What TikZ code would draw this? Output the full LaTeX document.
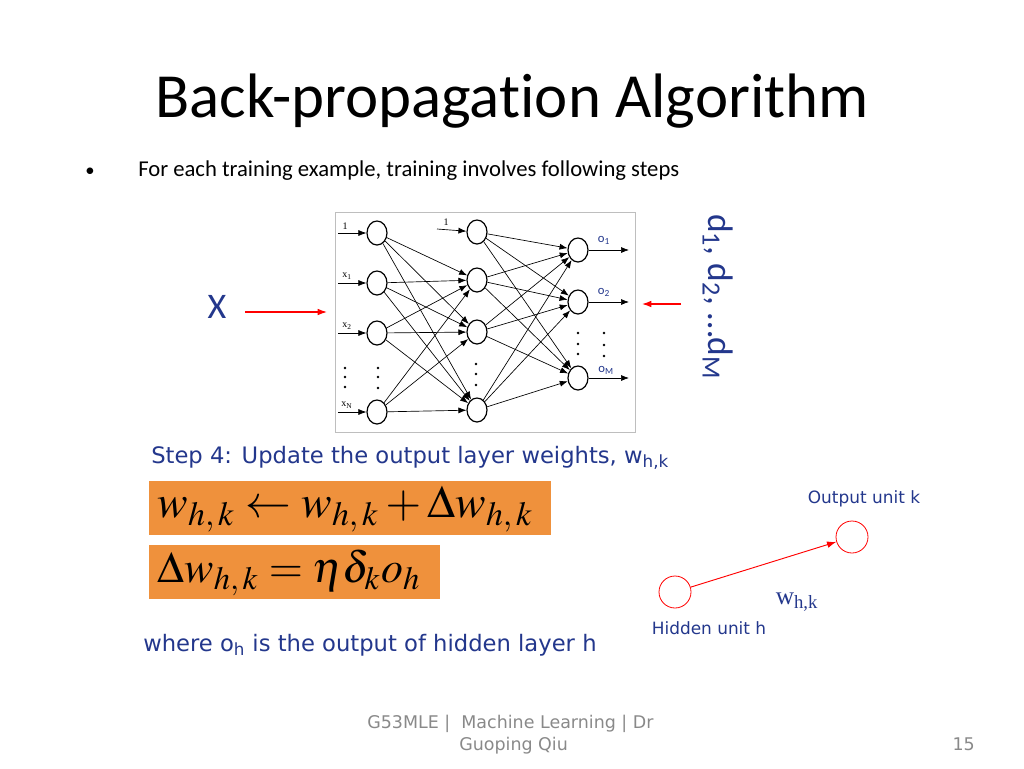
\documentclass[tikz,border=0pt]{standalone}
\usepackage{mathptmx}
\usepackage{fontspec}
\setmainfont[Ligatures={NoCommon}]{Carlito}
\newfontfamily\verd{DejaVu Sans}
\newfontfamily\tnr{Liberation Serif}
\usetikzlibrary{arrows.meta,shapes.geometric}
\definecolor{navy}{RGB}{35,55,140}
\definecolor{orng}{RGB}{239,145,60}
\definecolor{ftgray}{RGB}{137,137,137}
\definecolor{boxgray}{RGB}{190,190,190}
\tikzset{
  neuron/.style={draw=black, line width=0.9pt, ellipse, minimum width=15pt, minimum height=18pt, inner sep=0pt},
  conn/.style={line width=0.5pt, -{Latex[length=6pt,width=4.5pt]}},
  inl/.style={font=\tnr\fontsize{7.5}{8}\selectfont, inner sep=0pt},
  olab/.style={font=\fontsize{9.5}{10}\selectfont, text=navy, inner sep=0pt},
  redarrow/.style={draw=red, line width=0.9pt, -{Latex[length=7pt,width=5pt]}},
  runit/.style={draw=red, circle, line width=0.6pt, minimum size=24pt, inner sep=0pt},
  bluetxt/.style={text=navy, inner sep=0pt},
  eqbox/.style={fill=orng, inner sep=0pt, anchor=north west},
  eqtxt/.style={inner sep=0pt, anchor=west, scale=2.45, font=\fontsize{14}{16}\selectfont},
}
\begin{document}
\begin{tikzpicture}[x=0.75pt,y=-0.75pt]
\useasboundingbox (0,0) rectangle (1024,768);
% title
\node[inner sep=0pt, anchor=base] (title) at (512,117) {\fontsize{47.1}{50}\selectfont Back-propagation Algorithm};
\node[inner sep=0pt, anchor=base] (bullet) at (90,176) {\fontsize{14}{16}\selectfont •};
\node[inner sep=0pt, anchor=base west] (intro) at (138,176) {\fontsize{17}{19}\selectfont For each training example, training involves following steps};
% network image
\draw[boxgray, line width=0.6pt] (335,212) rectangle (635,432);
\node[neuron] (a1) at (377,233) {};
\node[neuron] (a2) at (377,283) {};
\node[neuron] (a3) at (377,333) {};
\node[neuron] (a4) at (377,412) {};
\node[neuron] (b1) at (477,232) {};
\node[neuron] (b2) at (477,280) {};
\node[neuron] (b3) at (477,332) {};
\node[neuron] (b4) at (477,410) {};
\node[neuron] (c1) at (578,250) {};
\node[neuron] (c2) at (578,302) {};
\node[neuron] (c3) at (578,378) {};
\foreach \i in {1,...,4}{
  \foreach \j in {2,3,4}{ \draw[conn] (a\i) -- (b\j); }
  \foreach \j in {1,2,3}{ \draw[conn] (b\i) -- (c\j); }
}
% inputs
\coordinate (i1) at (338,233);
\coordinate (i2) at (338,283);
\coordinate (i3) at (338,333);
\coordinate (i4) at (338,412);
\foreach \i in {1,...,4}{ \draw[conn] (i\i) -- (a\i); }
\node[inl] (l1) at (345,226) {1};
\node[inl] (l2) at (347,276) {x\textsubscript{1}};
\node[inl] (l3) at (347,326) {x\textsubscript{2}};
\node[inl] (l4) at (347,405) {x\textsubscript{N}};
\coordinate (ib) at (437,229);
\draw[conn] (ib) -- (b1);
\node[inl] (lb) at (446,222) {1};
% outputs
\coordinate (o1) at (629,250);
\coordinate (o2) at (629,302);
\coordinate (o3) at (629,378);
\foreach \i in {1,2,3}{ \draw[conn] (c\i) -- (o\i); }
\node[olab] (ol1) at (604,240) {o\textsubscript{1}};
\node[olab] (ol2) at (604,292) {o\textsubscript{2}};
\node[olab] (ol3) at (606,370) {o\textsubscript{M}};
% dots
\foreach \x/\ys in {345/{368,377,387},378/{368,377,388},476/{364,374,385},578/{333,344,354},604/{333,345,356}}{
  \foreach \y in \ys { \fill (\x,\y) circle (1.1pt); }
}
% X and targets
\node[bluetxt, anchor=base] (X) at (217,318) {\fontsize{27}{30}\selectfont X};
\coordinate (xs) at (245,312);
\coordinate (xe) at (327,312);
\draw[redarrow] (xs) -- (xe);
\coordinate (ds) at (681,304);
\coordinate (de) at (642,304);
\draw[redarrow] (ds) -- (de);
\node[bluetxt, rotate=-90, anchor=base west] (d) at (708,214) {\fontsize{26.6}{28}\selectfont d\textsubscript{1}, d\textsubscript{2}, …d\textsubscript{M}};
% step 4
\node[bluetxt, anchor=base west] (step) at (151,463) {\verd\fontsize{17}{19}\selectfont Step 4: Update the output layer weights, w\textsubscript{h,k}};
\node[eqbox, minimum width=402pt*0.75, minimum height=54pt*0.75] (eq1) at (149,481) {};
\node[eqtxt] (eq1t) at (157,509) {$w_{h,\,k} \leftarrow w_{h,\,k} + \Delta w_{h,\,k}$};
\node[eqbox, minimum width=291pt*0.75, minimum height=54pt*0.75] (eq2) at (149,545) {};
\node[eqtxt, scale=0.96] (eq2t) at (157,573) {$\Delta w_{h,\,k} = \eta\delta_k o_h$};
\node[bluetxt, anchor=base west] (where) at (143,651) {\verd\fontsize{17}{19}\selectfont where o\textsubscript{h} is the output of hidden layer h};
% small diagram
\node[runit] (hu) at (675,592) {};
\node[runit] (ou) at (852,537) {};
\draw[redarrow, line width=0.7pt] (hu) -- (ou);
\node[bluetxt, anchor=base] (wlab) at (797,604) {\tnr\fontsize{19}{21}\selectfont w\textsubscript{h,k}};
\node[bluetxt, anchor=base] (outl) at (864,503) {\verd\fontsize{12.7}{14}\selectfont Output unit k};
\node[bluetxt, anchor=base] (hidl) at (709,634) {\verd\fontsize{12.7}{14}\selectfont Hidden unit h};
% footer
\node[text=ftgray, inner sep=0pt, anchor=base west] (f1) at (367,728) {\verd\fontsize{13.1}{15}\selectfont G53MLE |\ \ Machine Learning | Dr};
\node[text=ftgray, inner sep=0pt, anchor=base west] (f2) at (459,750) {\verd\fontsize{13.1}{15}\selectfont Guoping Qiu};
\node[text=ftgray, inner sep=0pt, anchor=base east] (pg) at (975,750) {\verd\fontsize{13.1}{15}\selectfont 15};
\end{tikzpicture}
\end{document}
